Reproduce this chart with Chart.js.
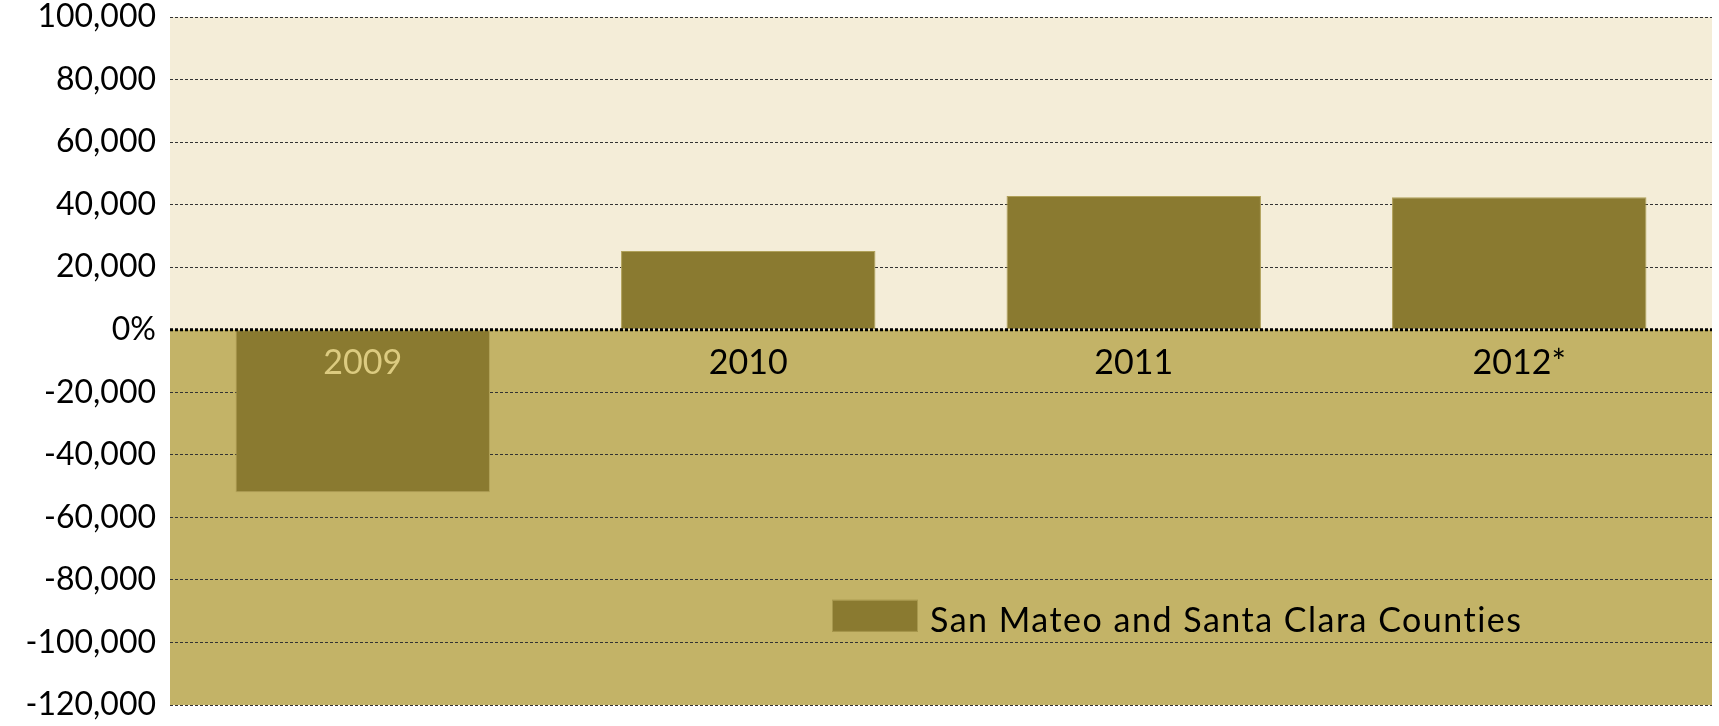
<!DOCTYPE html>
<html>
<head>
<meta charset="utf-8">
<script src="https://cdn.jsdelivr.net/npm/chart.js@4/dist/chart.umd.min.js"></script>
<style>
  html, body { margin: 0; padding: 0; background: #fff; }
  #wrap { width: 1719px; height: 726px; }
</style>
</head>
<body>
<div id="wrap"><canvas id="myChart" width="1719" height="726"></canvas></div>
<script>
// chart data
let years = ['2009', '2010', '2011', '2012*'];
let jobChange = [-52000, 25200, 42800, 42400];
let seriesName = 'San Mateo and Santa Clara Counties';
let yMin = -120000, yMax = 100000, yStep = 20000;

let fontFamily = 'Lato, "Open Sans", sans-serif';
let barColor = '#8a7a30';
let upperBg = '#f4edd8';
let lowerBg = '#c3b367';

// fills the plot above and below zero, draws labels, zero line and legend
let decor = {
  id: 'decor',
  beforeDraw(chart) {
    let c = chart.ctx, a = chart.chartArea;
    let y0 = chart.scales.y.getPixelForValue(0);
    c.save();
    c.fillStyle = upperBg;
    c.fillRect(a.left, a.top, a.right - a.left, y0 - a.top);
    c.fillStyle = lowerBg;
    c.fillRect(a.left, y0, a.right - a.left, a.bottom - y0);
    c.restore();
  },
  afterDatasetsDraw(chart) {
    let c = chart.ctx, a = chart.chartArea;
    let x = chart.scales.x, y = chart.scales.y;
    let y0 = y.getPixelForValue(0);
    c.save();
    // zero line
    c.strokeStyle = '#000';
    c.lineWidth = 3;
    c.setLineDash([3, 2]);
    c.beginPath();
    c.moveTo(a.left, y0);
    c.lineTo(a.right, y0);
    c.stroke();
    c.setLineDash([]);
    // category labels inside the plot
    c.font = '34px ' + fontFamily;
    c.textAlign = 'center';
    c.textBaseline = 'middle';
    years.forEach((yr, i) => {
      c.fillStyle = jobChange[i] < 0 ? '#dccb80' : '#000';
      c.fillText(yr, x.getPixelForValue(i), y0 + 33);
    });
    // legend
    let lx = 832, ly = y.getPixelForValue(-91500);
    c.fillStyle = barColor;
    c.fillRect(lx, ly - 16, 86, 32);
    c.strokeStyle = '#a8994e';
    c.lineWidth = 1;
    c.strokeRect(lx + 0.5, ly - 15.5, 85, 31);
    c.fillStyle = '#000';
    c.textAlign = 'left';
    c.textBaseline = 'alphabetic';
    c.font = '34px ' + fontFamily;
    c.letterSpacing = '1.5px';
    c.fillText(seriesName, lx + 98, ly + 16);
    c.restore();
  }
};

let ctx = document.getElementById('myChart').getContext('2d');

let myChart = new Chart(ctx, {
  type: 'bar',
  data: {
    labels: years,
    datasets: [{
      label: seriesName,
      data: jobChange,
      backgroundColor: barColor,
      borderColor: '#b0a159',
      borderWidth: 1,
      borderSkipped: false,
      categoryPercentage: 1,
      barPercentage: 0.66
    }]
  },
  options: {
    responsive: false,
    animation: false,
    layout: { padding: { top: 17, bottom: 21, left: 0, right: 7 } },
    plugins: {
      legend: { display: false },
      tooltip: { enabled: false }
    },
    scales: {
      x: {
        display: false
      },
      y: {
        min: yMin,
        max: yMax,
        afterFit(scale) {
          scale.width = 170;
          scale.paddingTop = 0;
          scale.paddingBottom = 0;
        },
        border: { display: false, dash: [3, 2] },
        grid: {
          drawTicks: false,
          lineWidth: 1,
          color: (c) => c.tick && c.tick.value === 0 ? 'rgba(0,0,0,0)' : '#333'
        },
        ticks: {
          stepSize: yStep,
          padding: 14,
          color: '#000',
          font: { family: fontFamily, size: 32 },
          callback: (v) => v === 0 ? '0%' : v.toLocaleString('en-US')
        }
      }
    }
  },
  plugins: [decor]
});
</script>
</body>
</html>
